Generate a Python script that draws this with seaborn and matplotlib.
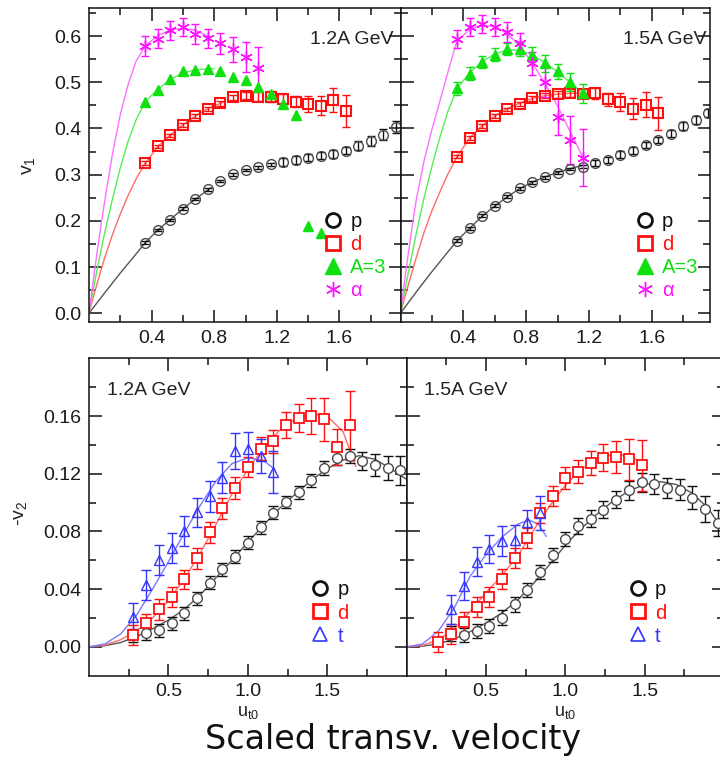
import numpy as np
import matplotlib
matplotlib.use("Agg")
import matplotlib.pyplot as plt
import seaborn as sns
from matplotlib.lines import Line2D
from matplotlib.ticker import FixedLocator, FormatStrFormatter

# ---------------- data: v1, 1.2A GeV ----------------
v1_12_alpha_x = [0.36, 0.44, 0.52, 0.60, 0.68, 0.76, 0.84, 0.92, 1.00, 1.08]
v1_12_alpha_y = [0.579, 0.594, 0.612, 0.619, 0.604, 0.595, 0.584, 0.571, 0.555, 0.531]
v1_12_alpha_e = [0.022, 0.021, 0.020, 0.020, 0.021, 0.021, 0.022, 0.027, 0.032, 0.045]

v1_12_a3_x = [0.36, 0.44, 0.52, 0.60, 0.68, 0.76, 0.84, 0.92, 1.00, 1.08, 1.16, 1.24, 1.32, 1.40, 1.48]
v1_12_a3_y = [0.458, 0.483, 0.507, 0.524, 0.527, 0.528, 0.524, 0.511, 0.505, 0.490, 0.475, 0.452, 0.428, 0.189, 0.173]

v1_12_d_x = [0.36, 0.44, 0.52, 0.60, 0.68, 0.76, 0.84, 0.92, 1.00, 1.08, 1.16, 1.24, 1.32, 1.40, 1.48, 1.56, 1.64]
v1_12_d_y = [0.325, 0.361, 0.385, 0.407, 0.427, 0.442, 0.454, 0.467, 0.471, 0.469, 0.469, 0.464, 0.458, 0.453, 0.449, 0.462, 0.438]
v1_12_d_e = [0.004, 0.004, 0.004, 0.004, 0.004, 0.004, 0.005, 0.006, 0.007, 0.009, 0.011, 0.011, 0.012, 0.018, 0.021, 0.026, 0.035]

v1_12_p_x = [0.36, 0.44, 0.52, 0.60, 0.68, 0.76, 0.84, 0.92, 1.00, 1.08, 1.16, 1.24, 1.32, 1.40, 1.48,
             1.56, 1.64, 1.72, 1.80, 1.88, 1.96]
v1_12_p_y = [0.153, 0.180, 0.202, 0.226, 0.247, 0.268, 0.286, 0.301, 0.310, 0.316, 0.322, 0.327, 0.332,
             0.337, 0.341, 0.345, 0.352, 0.363, 0.373, 0.386, 0.403]
v1_12_p_e = [0.003] * 11 + [0.008, 0.008, 0.008, 0.008, 0.008, 0.008, 0.009, 0.010, 0.012, 0.013]

# fit curves
fit_v1_12_p_x = [0, 0.1, 0.2, 0.3, 0.36, 0.44, 0.52, 0.60, 0.68, 0.76, 0.78]
fit_v1_12_p_y = [0, 0.044, 0.087, 0.128, 0.153, 0.180, 0.203, 0.226, 0.247, 0.267, 0.272]
fit_v1_12_d_x = [0, 0.025, 0.05, 0.1, 0.15, 0.2, 0.25, 0.3, 0.36, 0.44, 0.52, 0.60, 0.68, 0.76, 0.86]
fit_v1_12_d_y = [0, 0.032, 0.062, 0.12, 0.17, 0.215, 0.255, 0.29, 0.325, 0.361, 0.386, 0.408, 0.427, 0.443, 0.457]
fit_v1_12_a3_x = [0, 0.025, 0.05, 0.1, 0.15, 0.2, 0.25, 0.3, 0.36, 0.44, 0.52, 0.60, 0.68, 0.76, 0.80]
fit_v1_12_a3_y = [0, 0.047, 0.092, 0.174, 0.247, 0.315, 0.372, 0.418, 0.458, 0.485, 0.506, 0.520, 0.527, 0.529, 0.529]
fit_v1_12_al_x = [0, 0.025, 0.05, 0.075, 0.1, 0.15, 0.2, 0.25, 0.3, 0.36, 0.44, 0.52, 0.60, 0.68, 0.76]
fit_v1_12_al_y = [0, 0.065, 0.128, 0.187, 0.242, 0.345, 0.43, 0.495, 0.545, 0.579, 0.601, 0.613, 0.617, 0.612, 0.600]

# ---------------- data: v1, 1.5A GeV ----------------
v1_15_alpha_x = [0.36, 0.44, 0.52, 0.60, 0.68, 0.76, 0.84, 0.92, 1.00, 1.08, 1.16]
v1_15_alpha_y = [0.593, 0.620, 0.626, 0.619, 0.609, 0.584, 0.541, 0.501, 0.425, 0.375, 0.337]
v1_15_alpha_e = [0.020, 0.019, 0.019, 0.019, 0.022, 0.023, 0.025, 0.032, 0.040, 0.052, 0.062]

v1_15_a3_x = [0.36, 0.44, 0.52, 0.60, 0.68, 0.76, 0.84, 0.92, 1.00, 1.08, 1.16]
v1_15_a3_y = [0.487, 0.518, 0.544, 0.560, 0.571, 0.571, 0.560, 0.541, 0.524, 0.501, 0.476]
v1_15_a3_e = [0.014, 0.014, 0.013, 0.013, 0.013, 0.014, 0.016, 0.018, 0.016, 0.020, 0.021]

v1_15_d_x = [0.36, 0.44, 0.52, 0.60, 0.68, 0.76, 0.84, 0.92, 1.00, 1.08, 1.16, 1.24, 1.32, 1.40, 1.48, 1.56, 1.64]
v1_15_d_y = [0.339, 0.379, 0.405, 0.427, 0.441, 0.453, 0.465, 0.471, 0.474, 0.476, 0.475, 0.476, 0.463, 0.457, 0.443, 0.451, 0.433]
v1_15_d_e = [0.004] * 6 + [0.005, 0.006, 0.008, 0.009, 0.010, 0.012, 0.014, 0.019, 0.023, 0.027, 0.036]

v1_15_p_x = [0.36, 0.44, 0.52, 0.60, 0.68, 0.76, 0.84, 0.92, 1.00, 1.08, 1.16, 1.24, 1.32, 1.40, 1.48,
             1.56, 1.64, 1.72, 1.80, 1.88, 1.96]
v1_15_p_y = [0.157, 0.184, 0.211, 0.233, 0.252, 0.270, 0.283, 0.294, 0.304, 0.312, 0.317, 0.325, 0.332,
             0.343, 0.352, 0.364, 0.375, 0.389, 0.405, 0.418, 0.433]
v1_15_p_e = [0.003] * 11 + [0.006, 0.007, 0.008, 0.008, 0.007, 0.007, 0.007, 0.008, 0.008, 0.009]

fit_v1_15_p_x = [0, 0.1, 0.2, 0.3, 0.36, 0.44, 0.52, 0.60, 0.68, 0.76, 0.84, 0.92, 1.00, 1.08, 1.16]
fit_v1_15_p_y = [0, 0.046, 0.090, 0.132, 0.157, 0.184, 0.210, 0.232, 0.252, 0.270, 0.284, 0.295, 0.305, 0.313, 0.320]
fit_v1_15_d_x = [0, 0.025, 0.05, 0.1, 0.15, 0.2, 0.25, 0.3, 0.36, 0.44, 0.52, 0.60, 0.68, 0.76, 0.84, 0.92,
                 1.00, 1.08, 1.16, 1.20]
fit_v1_15_d_y = [0, 0.032, 0.062, 0.12, 0.175, 0.222, 0.262, 0.300, 0.339, 0.379, 0.406, 0.427, 0.443, 0.455,
                 0.465, 0.471, 0.474, 0.476, 0.476, 0.476]
fit_v1_15_a3_x = [0, 0.025, 0.05, 0.1, 0.15, 0.2, 0.25, 0.3, 0.36, 0.44, 0.52, 0.60, 0.68, 0.76, 0.84, 0.92,
                  1.00, 1.08, 1.16]
fit_v1_15_a3_y = [0, 0.045, 0.088, 0.172, 0.25, 0.318, 0.38, 0.435, 0.487, 0.520, 0.545, 0.561, 0.570, 0.569,
                  0.559, 0.542, 0.522, 0.500, 0.476]
fit_v1_15_al_x = [0, 0.025, 0.05, 0.075, 0.1, 0.15, 0.2, 0.25, 0.3, 0.36, 0.44, 0.52, 0.60, 0.68, 0.76, 0.84,
                  0.92, 1.00, 1.08, 1.16]
fit_v1_15_al_y = [0, 0.067, 0.13, 0.19, 0.245, 0.33, 0.398, 0.458, 0.52, 0.59, 0.614, 0.624, 0.620, 0.605,
                  0.578, 0.541, 0.497, 0.448, 0.393, 0.338]

# ---------------- data: -v2, 1.2A GeV ----------------
v2_12_p_x = [0.28, 0.36, 0.44, 0.52, 0.60, 0.68, 0.76, 0.84, 0.92, 1.00, 1.08, 1.16, 1.24, 1.32, 1.40,
             1.48, 1.56, 1.64, 1.72, 1.80, 1.88, 1.96]
v2_12_p_y = [0.0081, 0.0093, 0.0116, 0.0162, 0.0232, 0.0336, 0.0445, 0.0538, 0.0626, 0.0723, 0.0830,
             0.0928, 0.1004, 0.1071, 0.1155, 0.1238, 0.1308, 0.1322, 0.1289, 0.1259, 0.1238, 0.1224]
v2_12_p_e = [0.0045] * 15 + [0.005, 0.005, 0.005, 0.0064, 0.0075, 0.0083, 0.0099]

v2_12_d_x = [0.28, 0.36, 0.44, 0.52, 0.60, 0.68, 0.76, 0.84, 0.92, 1.00, 1.08, 1.16, 1.24, 1.32, 1.40,
             1.48, 1.56, 1.64]
v2_12_d_y = [0.0081, 0.0162, 0.0260, 0.0348, 0.0468, 0.0614, 0.0793, 0.0962, 0.1101, 0.1248, 0.1373,
             0.1426, 0.1537, 0.1586, 0.1600, 0.1577, 0.1387, 0.1535]
v2_12_d_e = [0.007, 0.0066, 0.0074, 0.007, 0.0067, 0.0073, 0.007, 0.0073, 0.0073, 0.007, 0.008, 0.008,
             0.009, 0.010, 0.0128, 0.0147, 0.0124, 0.024]

v2_12_t_x = [0.28, 0.36, 0.44, 0.52, 0.60, 0.68, 0.76, 0.84, 0.92, 1.00, 1.08, 1.16]
v2_12_t_y = [0.0209, 0.0429, 0.0603, 0.0684, 0.0800, 0.0932, 0.1043, 0.1171, 0.1357, 0.1368, 0.1322, 0.1213]
v2_12_t_e = [0.0096, 0.0104, 0.0102, 0.0104, 0.0104, 0.0099, 0.0108, 0.0107, 0.0122, 0.0122, 0.012, 0.0147]

fit_v2_12_p_x = [0, 0.1, 0.2, 0.3, 0.4, 0.5, 0.6, 0.7, 0.8, 0.9, 1.0, 1.1, 1.2, 1.3, 1.4, 1.5, 1.6, 1.7,
                 1.8, 1.9, 2.0]
fit_v2_12_p_y = [0, 0.0008, 0.003, 0.0072, 0.0125, 0.0185, 0.026, 0.036, 0.048, 0.060, 0.0725, 0.0845,
                 0.096, 0.106, 0.1155, 0.1235, 0.1295, 0.1325, 0.130, 0.1235, 0.116]
fit_v2_12_d_x = [0, 0.1, 0.2, 0.3, 0.4, 0.5, 0.6, 0.7, 0.8, 0.9, 1.0, 1.1, 1.2, 1.3, 1.4, 1.5, 1.6, 1.68]
fit_v2_12_d_y = [0, 0.0012, 0.005, 0.011, 0.020, 0.032, 0.047, 0.065, 0.085, 0.106, 0.123, 0.138, 0.150,
                 0.158, 0.1615, 0.160, 0.149, 0.125]
fit_v2_12_t_x = [0, 0.1, 0.2, 0.3, 0.4, 0.5, 0.6, 0.7, 0.8, 0.9, 1.0, 1.1, 1.17]
fit_v2_12_t_y = [0, 0.002, 0.009, 0.022, 0.040, 0.059, 0.079, 0.098, 0.115, 0.127, 0.131, 0.129, 0.123]

# ---------------- data: -v2, 1.5A GeV ----------------
v2_15_p_x = [0.28, 0.36, 0.44, 0.52, 0.60, 0.68, 0.76, 0.84, 0.92, 1.00, 1.08, 1.16, 1.24, 1.32, 1.40,
             1.48, 1.56, 1.64, 1.72, 1.80, 1.88, 1.96]
v2_15_p_y = [0.0093, 0.0083, 0.0111, 0.0146, 0.0202, 0.0294, 0.0394, 0.0517, 0.0638, 0.0747, 0.0835,
             0.0888, 0.0951, 0.1020, 0.1085, 0.1141, 0.1129, 0.1101, 0.1090, 0.1032, 0.0955, 0.0858]
v2_15_p_e = [0.005] * 10 + [0.0055, 0.006, 0.006, 0.006, 0.0065, 0.0065, 0.007, 0.007, 0.0075, 0.008, 0.009, 0.0093]

v2_15_d_x = [0.20, 0.28, 0.36, 0.44, 0.52, 0.60, 0.68, 0.76, 0.84, 0.92, 1.00, 1.08, 1.16, 1.24, 1.32, 1.40, 1.48]
v2_15_d_y = [0.0035, 0.0088, 0.0174, 0.0274, 0.0344, 0.0469, 0.0614, 0.0754, 0.0928, 0.1043, 0.1171,
             0.1213, 0.1275, 0.1310, 0.1315, 0.1299, 0.1257]
v2_15_d_e = [0.007] * 10 + [0.0075, 0.008, 0.0085, 0.0093, 0.011, 0.014, 0.018]

v2_15_t_x = [0.28, 0.36, 0.44, 0.52, 0.60, 0.68, 0.76, 0.84]
v2_15_t_y = [0.0260, 0.0422, 0.0591, 0.0679, 0.0735, 0.0742, 0.0863, 0.0928]
v2_15_t_e = [0.0099, 0.0099, 0.0099, 0.0097, 0.0104, 0.0104, 0.0085, 0.0116]

fit_v2_15_p_x = [0, 0.1, 0.2, 0.3, 0.4, 0.5, 0.6, 0.7, 0.8, 0.9, 1.0, 1.1, 1.2, 1.3, 1.4, 1.5, 1.6, 1.7,
                 1.8, 1.9, 2.0]
fit_v2_15_p_y = [0, 0.0005, 0.002, 0.0055, 0.0105, 0.0165, 0.0235, 0.0325, 0.044, 0.057, 0.0705, 0.082,
                 0.092, 0.101, 0.108, 0.1125, 0.1145, 0.1125, 0.1065, 0.096, 0.080]
fit_v2_15_d_x = [0, 0.1, 0.2, 0.3, 0.4, 0.5, 0.6, 0.7, 0.8, 0.9, 1.0, 1.1, 1.2, 1.3, 1.4, 1.48]
fit_v2_15_d_y = [0, 0.001, 0.005, 0.0125, 0.0245, 0.0375, 0.0495, 0.063, 0.081, 0.0975, 0.112, 0.123,
                 0.130, 0.1335, 0.1325, 0.128]
fit_v2_15_t_x = [0, 0.1, 0.2, 0.3, 0.4, 0.5, 0.6, 0.7, 0.77, 0.83, 0.88]
fit_v2_15_t_y = [0, 0.002, 0.011, 0.027, 0.049, 0.064, 0.076, 0.085, 0.088, 0.085, 0.0765]

# ---------------- style ----------------
sns.set_theme(style="ticks")
plt.rcParams["font.family"] = ["Liberation Sans", "DejaVu Sans"]
plt.rcParams["axes.linewidth"] = 1.1
plt.rcParams["axes.edgecolor"] = "#111111"

C_P, C_P_LINE = "#4a4a4a", "#555555"
C_D, C_D_LINE = "#ff1010", "#ff6a6a"
C_A3, C_A3_LINE = "#10e010", "#55ee55"
C_AL, C_AL_LINE = "#ff10ff", "#ff70ff"
C_T, C_T_LINE = "#3535ff", "#7a7aff"

fig = plt.figure(figsize=(7.2, 7.58), dpi=100)
W, H = 720.0, 758.0


def add_ax(x0, x1, ytop, ybot):
    return fig.add_axes([x0 / W, 1 - ybot / H, (x1 - x0) / W, (ybot - ytop) / H])


ax_tl = add_ax(89, 400.5, 8.3, 322)
ax_tr = add_ax(400.5, 710, 8.3, 322)
ax_bl = add_ax(89, 406.7, 358.3, 675.7)
ax_br = add_ax(406.7, 724, 358.3, 675.7)


def curve(ax, x, y, color):
    sns.lineplot(x=x, y=y, ax=ax, color=color, lw=1.0, estimator=None, sort=False, legend=False, zorder=2)


def points(ax, x, y, err, color, ecolor, marker, ms, mfc, mew, capsize=2.9):
    if err is not None:
        ax.errorbar(x, y, yerr=err, fmt="none", ecolor=ecolor, elinewidth=1.0, capsize=capsize,
                    capthick=1.0, zorder=3)
    ax.plot(x, y, linestyle="none", marker=marker, ms=ms, mfc=mfc, mec=color, mew=mew, zorder=4)


def common_ticks(ax, show_y):
    ax.tick_params(which="both", direction="in", top=True, right=True, width=1.1, color="#111111",
                   labelsize=14, labelcolor="#1a1a1a", pad=5.5)
    ax.tick_params(which="major", length=9)
    ax.tick_params(which="minor", length=5)
    if not show_y:
        ax.tick_params(axis="y", labelleft=False)
    ax.set_facecolor("white")


def style_top(ax, show_y):
    ax.set_xlim(0, 1.99 if show_y else 1.97)
    ax.set_ylim(-0.019, 0.66)
    ax.xaxis.set_major_locator(FixedLocator([0.4, 0.8, 1.2, 1.6]))
    ax.xaxis.set_minor_locator(FixedLocator([0.2, 0.6, 1.0, 1.4, 1.8]))
    ax.yaxis.set_major_locator(FixedLocator([0.0, 0.1, 0.2, 0.3, 0.4, 0.5, 0.6]))
    ax.yaxis.set_minor_locator(FixedLocator([0.05, 0.15, 0.25, 0.35, 0.45, 0.55, 0.65]))
    ax.xaxis.set_major_formatter(FormatStrFormatter("%.1f"))
    ax.yaxis.set_major_formatter(FormatStrFormatter("%.1f"))
    common_ticks(ax, show_y)


def style_bot(ax, show_y):
    ax.set_xlim(0, 2.0)
    ax.set_ylim(-0.02, 0.2)
    ax.xaxis.set_major_locator(FixedLocator([0.5, 1.0, 1.5]))
    ax.xaxis.set_minor_locator(FixedLocator([0.25, 0.75, 1.25, 1.75]))
    ax.yaxis.set_major_locator(FixedLocator([0.0, 0.04, 0.08, 0.12, 0.16]))
    ax.yaxis.set_minor_locator(FixedLocator([0.02, 0.06, 0.10, 0.14, 0.18]))
    ax.xaxis.set_major_formatter(FormatStrFormatter("%.1f"))
    ax.yaxis.set_major_formatter(FormatStrFormatter("%.2f"))
    common_ticks(ax, show_y)
    ax.set_xlabel(r"$\mathregular{u_{t0}}$", fontsize=13, color="#222222")
    ax.xaxis.set_label_coords(0.5, -0.09)


# ---- top-left
ax = ax_tl
curve(ax, fit_v1_12_p_x, fit_v1_12_p_y, C_P_LINE)
curve(ax, fit_v1_12_d_x, fit_v1_12_d_y, C_D_LINE)
curve(ax, fit_v1_12_a3_x, fit_v1_12_a3_y, C_A3_LINE)
curve(ax, fit_v1_12_al_x, fit_v1_12_al_y, C_AL_LINE)
points(ax, v1_12_p_x, v1_12_p_y, v1_12_p_e, C_P, "#111111", "o", 7, "none", 1.0)
points(ax, v1_12_d_x, v1_12_d_y, v1_12_d_e, C_D, C_D, "s", 7.5, "none", 1.5)
points(ax, v1_12_a3_x, v1_12_a3_y, None, C_A3, C_A3, "^", 7, C_A3, 1.0)
points(ax, v1_12_alpha_x, v1_12_alpha_y, v1_12_alpha_e, C_AL, C_AL, (6, 2, 0), 9, C_AL, 1.0)
style_top(ax, True)
ax.set_ylabel(r"$\mathregular{v_1}$", fontsize=14, color="#222222")
ax.yaxis.set_label_coords(-0.168, 0.5)
ax.text(0.977, 0.899, "1.2A GeV", transform=ax.transAxes, ha="right", va="center", fontsize=14,
        color="#222222")

# ---- top-right
ax = ax_tr
curve(ax, fit_v1_15_p_x, fit_v1_15_p_y, C_P_LINE)
curve(ax, fit_v1_15_d_x, fit_v1_15_d_y, C_D_LINE)
curve(ax, fit_v1_15_a3_x, fit_v1_15_a3_y, C_A3_LINE)
curve(ax, fit_v1_15_al_x, fit_v1_15_al_y, C_AL_LINE)
points(ax, v1_15_p_x, v1_15_p_y, v1_15_p_e, C_P, "#111111", "o", 7, "none", 1.0)
points(ax, v1_15_d_x, v1_15_d_y, v1_15_d_e, C_D, C_D, "s", 7.5, "none", 1.5)
points(ax, v1_15_a3_x, v1_15_a3_y, v1_15_a3_e, C_A3, C_A3, "^", 7, C_A3, 1.0)
points(ax, v1_15_alpha_x, v1_15_alpha_y, v1_15_alpha_e, C_AL, C_AL, (6, 2, 0), 9, C_AL, 1.0)
style_top(ax, False)
ax.text(0.99, 0.899, "1.5A GeV", transform=ax.transAxes, ha="right", va="center", fontsize=14,
        color="#222222")

# ---- bottom-left
ax = ax_bl
curve(ax, fit_v2_12_p_x, fit_v2_12_p_y, C_P_LINE)
curve(ax, fit_v2_12_d_x, fit_v2_12_d_y, C_D_LINE)
curve(ax, fit_v2_12_t_x, fit_v2_12_t_y, C_T_LINE)
points(ax, v2_12_p_x, v2_12_p_y, v2_12_p_e, C_P, "#111111", "o", 7, "white", 1.0, 3.5)
points(ax, v2_12_d_x, v2_12_d_y, v2_12_d_e, C_D, C_D, "s", 7.5, "white", 1.3, 3.5)
points(ax, v2_12_t_x, v2_12_t_y, v2_12_t_e, C_T, C_T, "^", 7.5, "none", 1.0, 3.5)
style_bot(ax, True)
ax.set_ylabel(r"-$\mathregular{v_2}$", fontsize=14, color="#222222")
ax.yaxis.set_label_coords(-0.19, 0.513)
ax.text(0.057, 0.9, "1.2A GeV", transform=ax.transAxes, ha="left", va="center", fontsize=14,
        color="#222222")

# ---- bottom-right
ax = ax_br
curve(ax, fit_v2_15_p_x, fit_v2_15_p_y, C_P_LINE)
curve(ax, fit_v2_15_d_x, fit_v2_15_d_y, C_D_LINE)
curve(ax, fit_v2_15_t_x, fit_v2_15_t_y, C_T_LINE)
points(ax, v2_15_p_x, v2_15_p_y, v2_15_p_e, C_P, "#111111", "o", 7, "white", 1.0, 3.5)
points(ax, v2_15_d_x, v2_15_d_y, v2_15_d_e, C_D, C_D, "s", 7.5, "white", 1.3, 3.5)
points(ax, v2_15_t_x, v2_15_t_y, v2_15_t_e, C_T, C_T, "^", 7.5, "none", 1.0, 3.5)
style_bot(ax, False)
ax.text(0.054, 0.9, "1.5A GeV", transform=ax.transAxes, ha="left", va="center", fontsize=14,
        color="#222222")

# ---- legends
h_p = Line2D([], [], ls="none", marker="o", ms=10, mfc="none", mec="#111111", mew=2.0, label="p")
h_d = Line2D([], [], ls="none", marker="s", ms=10, mfc="none", mec=C_D, mew=2.0, label="d")
h_a3 = Line2D([], [], ls="none", marker="^", ms=12, mfc=C_A3, mec=C_A3, mew=1.0, label="A=3")
h_al = Line2D([], [], ls="none", marker=(6, 2, 0), ms=11, mfc=C_AL, mec=C_AL, mew=1.0, label="α")
h_t = Line2D([], [], ls="none", marker="^", ms=10, mfc="none", mec=C_T, mew=1.2, label="t")

leg_kw = dict(frameon=False, fontsize=14.5, handlelength=1.0, handletextpad=0.35, labelspacing=0.2,
              borderpad=0.0, borderaxespad=0.0, labelcolor="markeredgecolor", loc="upper left")
ax_tl.legend(handles=[h_p, h_d, h_a3, h_al], bbox_to_anchor=(0.752, 0.35), **leg_kw)
ax_tr.legend(handles=[h_p, h_d, h_a3, h_al], bbox_to_anchor=(0.757, 0.35), **leg_kw)
ax_bl.legend(handles=[h_p, h_d, h_t], bbox_to_anchor=(0.696, 0.30), **leg_kw)
ax_br.legend(handles=[h_p, h_d, h_t], bbox_to_anchor=(0.697, 0.30), **leg_kw)

fig.text(393 / W, 1 - 740 / H, "Scaled transv. velocity", ha="center", va="center", fontsize=24,
         family="DejaVu Sans", color="#111111")

fig.savefig("out.png", dpi=100)
